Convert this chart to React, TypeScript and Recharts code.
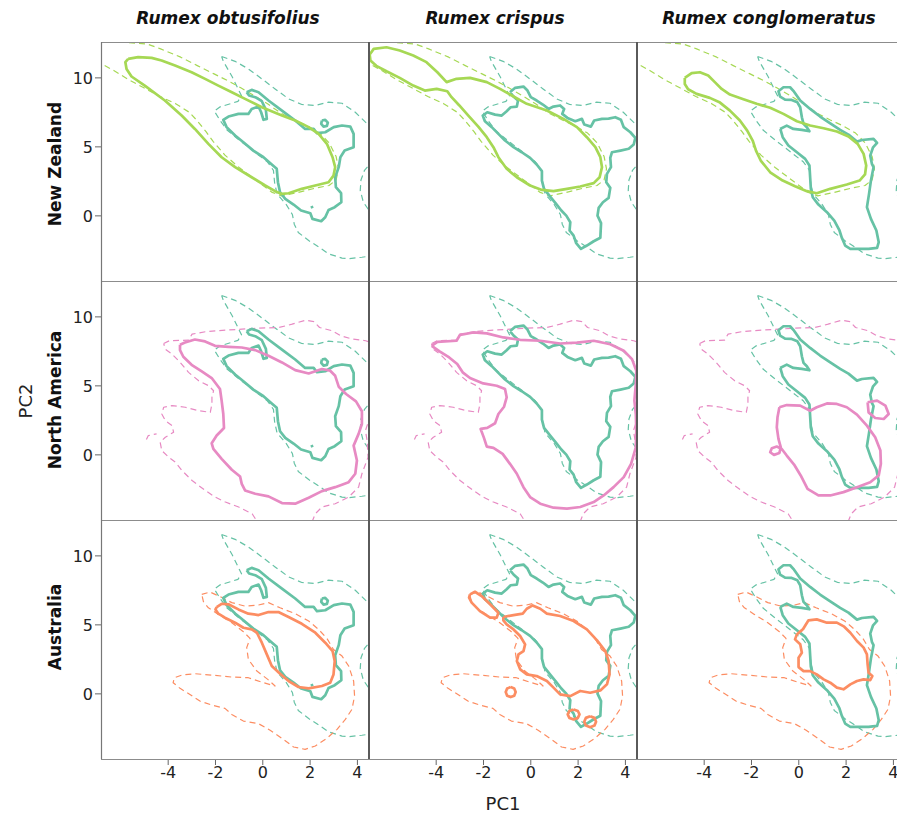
import React from "react";
import { LineChart, Line, XAxis, YAxis } from "recharts";

// ---------- labels ----------
const species = ["Rumex obtusifolius", "Rumex crispus", "Rumex conglomeratus"];
const regions = ["New Zealand", "North America", "Australia"];
const xTicks = [-4, -2, 0, 2, 4];
const yTicks = [0, 5, 10];

// ---------- background (dashed) contours ----------
const nativeBackground = [[-1.74,11.55],[-1.17,11.2],[-0.61,10.65],[-0.04,9.93],[0.52,9.2],[1.09,8.48],[1.65,8.07],[2.22,8.0],[2.78,8.24],[3.35,8.16],[3.91,7.51],[4.34,6.79],[4.8,6.1],[5.0,4.8],[4.6,3.9],[4.3,3.3],[4.15,2.6],[4.12,1.84],[4.25,1.0],[4.45,0.5],[4.7,-0.5],[4.7,-2.6],[4.48,-2.93],[4.19,-3.0],[3.63,-3.1],[3.35,-3.06],[2.78,-2.75],[2.22,-2.09],[1.94,-1.79],[1.5,-1.2],[1.33,-0.6],[1.25,0.1],[1.0,0.8],[0.6,1.6],[0.5,2.4],[0.45,3.3],[0.2,3.9],[-0.4,4.7],[-1.0,5.5],[-1.5,6.2],[-1.8,6.9],[-2.05,7.6],[-1.8,7.9],[-1.05,8.3],[-0.9,8.7],[-1.3,10.1],[-1.67,11.2],[-1.74,11.55]];
const nzBackground = [[-7.3,13.2],[-5.9,12.58],[-4.89,12.46],[-4.32,12.1],[-3.47,11.5],[-2.77,10.89],[-2.06,10.29],[-1.36,9.69],[-0.93,9.28],[-0.37,8.72],[0.2,8.12],[0.76,7.45],[1.33,6.95],[1.9,6.5],[2.4,6.0],[2.8,5.3],[3.1,4.3],[3.2,3.4],[3.1,2.6],[2.8,2.2],[2.2,2.0],[1.5,1.7],[0.8,1.45],[0.4,1.7],[-0.3,2.6],[-1.0,3.5],[-1.6,4.4],[-2.1,5.4],[-2.4,6.1],[-2.75,6.85],[-3.1,7.5],[-3.7,8.15],[-4.35,8.65],[-5.05,9.3],[-5.73,9.93],[-6.3,10.53],[-6.8,11.0],[-7.3,11.4],[-7.3,13.2]];
const naBackground = [[-4.19,8.07],[-3.95,8.27],[-3.14,8.31],[-2.99,8.75],[-2.43,8.92],[-1.58,9.04],[-0.88,9.11],[-0.17,9.18],[0.68,9.23],[1.24,9.47],[1.81,9.76],[2.16,9.66],[2.4,9.23],[2.94,8.99],[3.29,8.63],[3.79,8.39],[4.35,8.27],[4.92,7.9],[5.2,5.0],[4.6,3.0],[4.48,2.48],[4.34,1.76],[4.41,1.04],[4.45,-0.17],[4.19,-1.37],[4.05,-2.34],[3.63,-3.06],[3.06,-3.54],[2.5,-3.78],[2.22,-4.27],[2.0,-5.2],[-0.1,-5.2],[-0.45,-4.27],[-1.02,-3.78],[-1.58,-3.42],[-2.01,-3.06],[-2.43,-2.58],[-2.99,-1.86],[-3.42,-1.13],[-3.7,-0.53],[-3.98,-0.17],[-4.27,0.31],[-4.34,0.92],[-4.12,1.28],[-3.77,1.64],[-3.84,2.12],[-4.12,2.48],[-4.27,2.96],[-4.19,3.45],[-3.84,3.57],[-3.28,3.45],[-2.71,3.2],[-2.22,3.08],[-2.15,3.69],[-2.15,4.17],[-2.08,4.65],[-2.29,5.01],[-2.71,5.37],[-3.14,5.98],[-3.49,6.7],[-3.84,7.3],[-4.12,7.66],[-4.19,8.07]];
const naBackgroundBit = [[-4.92,1.11],[-4.84,1.4],[-4.49,1.52]];
const auBackground = [[-2.58,7.21],[-2.23,7.38],[-1.77,7.02],[-1.31,6.61],[-0.75,6.36],[-0.18,6.44],[0.24,6.61],[0.73,6.24],[1.37,5.81],[1.94,5.28],[2.36,4.67],[2.71,4.02],[2.99,3.22],[3.35,2.74],[3.63,2.02],[3.84,0.93],[3.88,-0.16],[3.77,-1.12],[3.49,-1.85],[3.14,-2.57],[2.71,-3.22],[2.22,-3.78],[1.79,-4.02],[1.3,-3.85],[0.81,-3.22],[0.31,-2.64],[-0.18,-2.16],[-0.82,-1.97],[-1.31,-1.49],[-1.6,-1.05],[-2.16,-0.81],[-2.66,-0.52],[-3.08,-0.04],[-3.5,0.4],[-3.79,0.81],[-3.74,1.17],[-3.43,1.36],[-2.87,1.46],[-2.16,1.36],[-1.31,1.22],[-0.61,1.17],[0.03,0.81],[0.52,0.57],[0.21,1.05],[-0.25,1.65],[-0.61,2.5],[-0.68,3.35],[-0.54,4.02],[-0.82,4.5],[-1.31,5.16],[-1.88,5.76],[-2.3,6.24],[-2.51,6.68],[-2.58,7.21]];

// ---------- native niches (solid teal) ----------
const nativeObtusifolius = [[-0.68,8.96],[-0.47,9.13],[-0.18,8.96],[0.24,8.36],[0.81,7.63],[1.37,6.91],[1.79,6.3],[2.15,6.3],[2.29,5.99],[2.64,6.06],[3.0,6.43],[3.35,6.55],[3.7,6.47],[3.84,5.94],[3.84,4.98],[3.46,4.73],[3.28,4.25],[3.21,3.53],[3.06,2.8],[3.09,2.08],[3.31,1.64],[3.32,0.99],[3.04,0.63],[2.78,0.43],[2.64,-0.1],[2.47,-0.39],[2.1,-0.22],[2.01,0.19],[1.62,0.39],[1.3,0.82],[0.95,1.23],[0.73,1.71],[0.64,2.44],[0.59,3.41],[0.38,3.72],[0.03,4.25],[-0.4,4.73],[-0.82,5.34],[-1.17,5.82],[-1.53,6.43],[-1.67,6.96],[-1.45,7.2],[-1.03,7.39],[-0.61,7.39],[-0.47,7.75],[-0.18,7.92],[-0.07,7.51],[0.03,6.96],[0.17,7.03],[0.13,7.68],[-0.04,8.31],[-0.32,8.6],[-0.58,8.72],[-0.68,8.96]];
const nativeObtusifoliusLoop = [[2.5,6.91],[2.64,6.96],[2.75,6.76],[2.71,6.52],[2.57,6.47],[2.47,6.67],[2.5,6.91]];
const nativeObtusifoliusDot = [[2.06,0.72],[2.1,0.55]];
const nativeCrispus = [[-0.88,8.96],[-0.66,9.28],[-0.31,9.37],[-0.14,9.08],[0.0,8.6],[0.25,8.36],[0.51,8.07],[0.75,7.75],[0.96,7.92],[1.24,8.0],[1.41,7.75],[1.33,7.39],[1.55,7.1],[1.88,6.86],[2.16,7.03],[2.26,6.62],[2.54,6.47],[2.68,6.91],[3.01,7.03],[3.29,7.05],[3.57,7.15],[3.81,6.96],[3.93,6.43],[4.21,6.06],[4.42,5.65],[4.35,5.17],[4.14,4.86],[3.79,4.73],[3.43,4.61],[3.36,4.2],[3.39,3.53],[3.22,3.04],[3.19,2.44],[3.36,2.03],[3.29,1.3],[3.05,0.99],[2.87,0.58],[2.82,0.02],[2.97,-0.53],[2.94,-1.59],[2.66,-1.84],[2.37,-2.15],[2.12,-2.39],[1.92,-1.98],[1.81,-1.43],[1.64,-1.06],[1.67,-0.46],[1.5,0.02],[1.29,0.39],[1.07,0.87],[0.82,1.4],[0.56,1.96],[0.47,2.56],[0.47,3.24],[0.25,3.72],[-0.03,4.2],[-0.38,4.61],[-0.73,4.98],[-1.09,5.46],[-1.37,5.94],[-1.65,6.43],[-1.94,6.86],[-2.03,7.27],[-1.84,7.51],[-1.51,7.34],[-1.23,7.27],[-1.02,7.58],[-0.85,7.87],[-0.59,7.92],[-0.54,8.36],[-0.73,8.65],[-0.88,8.96]];
const nativeConglomeratus = [[-0.79,6.3],[-0.51,6.54],[-0.23,6.3],[0.13,6.23],[0.45,6.13],[0.34,6.42],[0.2,6.67],[0.13,7.15],[0.06,7.87],[-0.06,8.23],[-0.3,8.4],[-0.58,8.43],[-0.79,8.64],[-0.86,9.03],[-0.65,9.32],[-0.37,9.32],[-0.2,9.0],[0.06,8.36],[0.48,7.75],[0.9,7.2],[1.33,6.71],[1.75,6.23],[2.1,5.89],[2.46,5.38],[2.67,5.5],[3.16,5.58],[3.31,5.29],[3.14,4.97],[3.02,4.37],[3.09,3.77],[3.16,3.53],[3.05,2.56],[2.97,1.59],[2.88,0.63],[3.05,-0.22],[3.28,-1.06],[3.38,-1.91],[3.31,-2.32],[2.95,-2.39],[2.6,-2.39],[2.18,-2.39],[1.96,-2.15],[1.82,-1.59],[1.72,-1.06],[1.5,-0.34],[1.19,0.27],[0.83,0.82],[0.59,1.35],[0.51,1.96],[0.48,2.8],[0.45,3.65],[0.27,4.13],[-0.08,4.61],[-0.44,5.1],[-0.68,5.7],[-0.76,6.18],[-0.79,6.3]];

// ---------- New Zealand niches (solid green) ----------
const nzObtusifolius = [[-5.69,11.38],[-5.27,11.5],[-4.7,11.45],[-4.28,11.26],[-3.71,10.89],[-3.01,10.41],[-2.44,9.93],[-1.88,9.44],[-1.31,8.96],[-0.75,8.48],[-0.04,7.87],[0.81,7.27],[1.37,6.91],[1.94,6.43],[2.36,5.94],[2.71,5.22],[2.95,4.25],[3.06,3.53],[2.99,2.92],[2.78,2.44],[2.22,2.2],[1.65,1.96],[1.09,1.64],[0.81,1.59],[0.52,1.79],[0.1,2.2],[-0.47,2.8],[-1.17,3.53],[-1.74,4.25],[-2.3,5.22],[-2.87,6.3],[-3.43,7.27],[-4.14,8.36],[-4.99,9.44],[-5.55,10.1],[-5.76,10.65],[-5.81,11.14],[-5.69,11.38]];
const nzCrispus = [[-6.81,11.69],[-6.64,12.1],[-6.1,12.22],[-5.54,11.98],[-4.97,11.62],[-4.41,11.14],[-3.95,10.41],[-3.56,9.69],[-3.14,9.93],[-2.57,10.0],[-1.86,9.69],[-1.3,9.2],[-0.73,8.65],[-0.17,8.12],[0.68,7.63],[1.38,7.03],[1.95,6.43],[2.37,5.7],[2.73,4.98],[2.94,4.25],[3.01,3.53],[2.91,2.8],[2.66,2.37],[2.09,2.13],[1.53,1.96],[0.96,1.79],[0.47,1.88],[-0.03,2.2],[-0.59,2.8],[-1.02,3.41],[-1.37,4.25],[-1.58,4.98],[-1.86,5.7],[-2.22,6.47],[-2.64,7.27],[-3.02,8.0],[-3.35,8.6],[-3.53,9.03],[-3.98,9.2],[-4.48,9.08],[-4.97,9.44],[-5.54,10.0],[-6.1,10.48],[-6.53,10.87],[-6.78,11.26],[-6.81,11.69]];
const nzConglomeratus = [[-4.82,10.0],[-4.53,10.34],[-4.18,10.41],[-3.83,10.17],[-3.55,9.69],[-3.26,9.2],[-2.91,8.79],[-2.34,8.45],[-1.78,8.12],[-1.21,7.83],[-0.65,7.39],[-0.08,6.86],[0.48,6.55],[1.05,6.35],[1.61,6.11],[2.1,5.75],[2.49,5.22],[2.74,4.49],[2.85,3.65],[2.8,3.0],[2.57,2.56],[2.03,2.27],[1.33,1.96],[0.76,1.64],[0.34,1.79],[-0.16,2.15],[-0.68,2.56],[-1.21,3.16],[-1.61,4.01],[-1.81,4.73],[-1.95,5.46],[-2.18,6.18],[-2.49,6.91],[-2.91,7.63],[-3.33,8.21],[-3.76,8.55],[-4.32,8.84],[-4.68,9.18],[-4.82,9.56],[-4.82,10.0]];

// ---------- North America niches (solid pink) ----------
const naObtusifolius = [[-3.5,7.98],[-3.29,8.14],[-2.87,8.36],[-2.44,8.22],[-2.02,7.9],[-1.45,7.83],[-0.89,7.78],[-0.32,7.59],[0.24,7.18],[0.81,6.7],[1.37,6.14],[1.94,5.9],[2.5,6.22],[2.85,6.1],[3.06,5.73],[3.21,4.94],[3.52,4.41],[3.94,3.88],[4.19,3.16],[4.19,2.24],[4.05,1.52],[3.84,0.67],[3.98,-0.41],[3.91,-1.37],[3.63,-1.98],[3.06,-2.34],[2.5,-2.63],[1.94,-3.11],[1.37,-3.54],[0.81,-3.49],[0.24,-3.01],[-0.32,-2.82],[-0.75,-2.58],[-0.89,-2.1],[-0.96,-1.57],[-1.31,-1.08],[-1.74,-0.29],[-2.09,0.43],[-2.16,0.84],[-1.95,1.4],[-1.64,1.95],[-1.67,2.96],[-1.74,3.93],[-1.81,4.77],[-2.16,5.57],[-2.58,6.05],[-3.01,6.53],[-3.36,7.11],[-3.5,7.59],[-3.5,7.98]];
const naCrispus = [[-4.19,7.9],[-3.95,8.19],[-3.14,8.27],[-2.99,8.7],[-2.43,8.87],[-1.86,8.8],[-1.16,8.51],[-0.45,8.34],[0.4,8.27],[1.24,8.07],[1.95,8.14],[2.66,8.27],[3.36,8.02],[3.93,7.54],[4.28,6.94],[4.46,6.1],[4.44,5.13],[4.38,3.93],[4.44,2.96],[4.46,1.76],[4.44,0.55],[4.24,-0.65],[3.93,-1.61],[3.5,-2.34],[3.08,-2.94],[2.66,-3.42],[2.09,-3.78],[1.53,-3.9],[0.96,-3.83],[0.4,-3.54],[-0.03,-3.06],[-0.31,-2.34],[-0.59,-1.37],[-0.88,-0.65],[-1.19,0.07],[-1.58,0.51],[-1.86,0.6],[-1.98,1.23],[-2.12,1.88],[-1.84,1.95],[-1.51,2.29],[-1.37,2.96],[-1.13,3.49],[-1.02,4.17],[-1.09,4.77],[-1.44,5.01],[-2.01,5.18],[-2.57,5.57],[-2.88,5.98],[-3.11,6.58],[-3.45,7.06],[-3.84,7.49],[-4.19,7.9]];
const naConglomeratus = [[-0.82,3.45],[-0.51,3.61],[0.06,3.57],[0.48,3.2],[0.76,3.45],[1.19,3.73],[1.61,3.69],[2.03,3.45],[2.46,2.92],[2.88,2.12],[3.23,1.28],[3.45,0.31],[3.47,-0.65],[3.38,-1.49],[3.02,-1.98],[2.46,-2.34],[1.89,-2.7],[1.33,-2.94],[0.83,-2.94],[0.37,-2.46],[0.08,-1.49],[-0.2,-0.7],[-0.51,-0.05],[-0.72,0.43],[-0.93,0.6],[-1.14,0.48],[-1.21,0.19],[-1.05,0.0],[-0.82,0.14],[-0.76,0.55],[-0.86,1.16],[-0.93,2.0],[-0.9,2.72],[-0.82,3.45]];
const naConglomeratusLoop = [[2.91,3.81],[3.31,3.93],[3.66,3.57],[3.8,2.96],[3.59,2.6],[3.23,2.67],[2.95,3.08],[2.91,3.81]];

// ---------- Australia niches (solid orange) ----------
const auObtusifolius = [[-1.95,6.29],[-1.74,6.53],[-1.45,6.49],[-1.03,6.12],[-0.61,5.81],[-0.18,5.71],[0.24,5.93],[0.66,5.93],[1.09,5.57],[1.65,5.08],[2.22,4.43],[2.64,3.71],[2.95,3.1],[3.04,2.38],[2.99,1.41],[2.85,0.81],[2.5,0.57],[1.94,0.4],[1.51,0.5],[1.09,0.93],[0.73,1.46],[0.38,2.02],[0.17,2.86],[-0.04,3.71],[-0.25,4.43],[-0.47,4.67],[-0.82,4.79],[-1.17,5.16],[-1.6,5.52],[-1.88,5.81],[-2.0,6.12],[-1.95,6.29]];
const auCrispus = [[-1.16,5.57],[-0.73,5.71],[-0.34,5.81],[-0.17,6.17],[0.08,6.41],[0.4,6.17],[0.68,5.81],[1.24,5.64],[1.81,5.28],[2.37,4.67],[2.8,3.88],[3.15,3.1],[3.29,2.38],[3.33,1.41],[3.22,0.69],[2.94,0.25],[2.51,0.08],[2.09,0.21],[1.67,-0.16],[1.24,-0.04],[0.96,0.45],[0.68,0.93],[0.25,1.29],[-0.17,1.41],[-0.45,1.78],[-0.59,2.38],[-0.52,2.86],[-0.31,3.1],[-0.24,3.59],[-0.45,4.19],[-0.73,4.67],[-1.02,5.04],[-1.16,5.33],[-1.16,5.57]];
const auCrispusTip = [[-2.57,7.21],[-2.36,7.4],[-2.08,7.09],[-1.72,6.49],[-1.37,5.88],[-1.44,5.52],[-1.72,5.52],[-2.15,6.0],[-2.5,6.61],[-2.61,6.97],[-2.57,7.21]];
const auCrispusLoopA = [[-0.85,0.49],[-0.7,0.39],[-0.64,0.13],[-0.7,-0.13],[-0.85,-0.23],[-1.0,-0.13],[-1.06,0.13],[-1.0,0.39],[-0.85,0.49]];
const auCrispusLoopB = [[1.81,-1.13],[1.99,-1.24],[2.06,-1.49],[1.99,-1.74],[1.81,-1.85],[1.63,-1.74],[1.56,-1.49],[1.63,-1.24],[1.81,-1.13]];
const auCrispusLoopC = [[2.51,-1.62],[2.69,-1.74],[2.76,-2.02],[2.69,-2.3],[2.51,-2.42],[2.33,-2.3],[2.26,-2.02],[2.33,-1.74],[2.51,-1.62]];
const auConglomeratus = [[0.17,4.67],[0.41,5.33],[0.76,5.4],[1.19,5.16],[1.61,5.16],[1.92,4.87],[2.18,4.43],[2.46,3.83],[2.74,3.35],[2.88,2.86],[2.91,2.14],[2.95,1.53],[3.11,1.29],[3.02,1.0],[2.74,1.05],[2.46,0.93],[2.18,0.69],[1.89,0.33],[1.61,0.45],[1.33,0.81],[1.05,1.05],[0.76,1.41],[0.48,1.65],[0.2,1.65],[-0.01,1.94],[-0.01,2.62],[0.13,2.98],[0.06,3.59],[-0.16,3.95],[-0.08,4.31],[0.08,4.55],[0.17,4.67]];

// ---------- styling / layout ----------
const TEAL = "#66c2a5";
const rowColors = ["#a6d854", "#e78ac3", "#fc8d62"];
const X_DOMAIN: [number, number] = [-6.84, 4.49];
const Y_DOMAIN: [number, number] = [-4.72, 12.6];
const COL_LEFT = [101, 369, 637];
const ROW_TOP = [42, 281, 520];
const PW = 268;
const PH = 239;
const Y_AXIS_W = 60;
const X_AXIS_H = 30;
const FONT = "'DejaVu Sans', Verdana, sans-serif";

const rowBackgrounds = [[nzBackground], [naBackground, naBackgroundBit], [auBackground]];
const nativeByCol = [
  [nativeObtusifolius, nativeObtusifoliusLoop, nativeObtusifoliusDot],
  [nativeCrispus],
  [nativeConglomeratus],
];
const invadedByCell = [
  [[nzObtusifolius], [nzCrispus], [nzConglomeratus]],
  [[naObtusifolius], [naCrispus], [naConglomeratus, naConglomeratusLoop]],
  [[auObtusifolius], [auCrispus, auCrispusTip, auCrispusLoopA, auCrispusLoopB, auCrispusLoopC], [auConglomeratus]],
];

const toPts = (arr: number[][]) => arr.map(([x, y]) => ({ x, y }));

type Series = { data: number[][]; color: string; dashed: boolean };

function Panel({ r, c }: { r: number; c: number }) {
  const showY = c === 0;
  const showX = r === 2;
  const width = PW + (showY ? Y_AXIS_W : 0);
  const height = PH + (showX ? X_AXIS_H : 0);
  const left = COL_LEFT[c] - (showY ? Y_AXIS_W : 0);
  const top = ROW_TOP[r];
  const series: Series[] = [];
  series.push({ data: nativeBackground, color: TEAL, dashed: true });
  rowBackgrounds[r].forEach((d) => series.push({ data: d, color: rowColors[r], dashed: true }));
  nativeByCol[c].forEach((d) => series.push({ data: d, color: TEAL, dashed: false }));
  invadedByCell[r][c].forEach((d) => series.push({ data: d, color: rowColors[r], dashed: false }));
  const tickStyle = { fontSize: 16, fill: "#222", fontFamily: FONT };
  return (
    <div style={{ position: "absolute", left, top, width, height }}>
      <LineChart width={width} height={height} margin={{ top: 0, right: 0, bottom: 0, left: 0 }}>
        <XAxis
          type="number"
          dataKey="x"
          domain={X_DOMAIN}
          allowDataOverflow
          ticks={xTicks}
          hide={!showX}
          height={X_AXIS_H}
          tick={tickStyle}
          tickSize={6}
          tickLine={{ stroke: "#666" }}
          axisLine={false}
          interval={0}
        />
        <YAxis
          type="number"
          domain={Y_DOMAIN}
          allowDataOverflow
          ticks={yTicks}
          hide={!showY}
          width={Y_AXIS_W}
          tick={tickStyle}
          tickSize={6}
          tickLine={{ stroke: "#666" }}
          axisLine={false}
          interval={0}
        />
        {series.map((s, i) => (
          <Line
            key={i}
            data={toPts(s.data)}
            dataKey="y"
            type="linear"
            stroke={s.color}
            strokeWidth={s.dashed ? 1.2 : 2.7}
            strokeDasharray={s.dashed ? "6 4" : undefined}
            strokeLinejoin="round"
            dot={false}
            activeDot={false}
            isAnimationActive={false}
            legendType="none"
          />
        ))}
      </LineChart>
    </div>
  );
}

export default function App() {
  const cells: React.ReactNode[] = [];
  for (let r = 0; r < 3; r++) for (let c = 0; c < 3; c++) cells.push(<Panel key={`${r}-${c}`} r={r} c={c} />);
  const titleX = [228, 495, 769];
  const rowLabelY = [164, 400, 627];
  return (
    <div style={{ position: "absolute", left: 0, top: 0, width: 897, height: 815, overflow: "hidden", background: "#fff" }}>
      {cells}
      <svg width={897} height={815} style={{ position: "absolute", left: 0, top: 0, pointerEvents: "none" }}>
        {ROW_TOP.concat([ROW_TOP[2] + PH]).map((y, i) => (
          <line key={`h${i}`} x1={101} x2={905} y1={y + 0.5} y2={y + 0.5} stroke="#8c8c8c" strokeWidth={1.2} />
        ))}
        <line x1={101.5} x2={101.5} y1={42} y2={759} stroke="#777" strokeWidth={1.2} />
        <line x1={369} x2={369} y1={42} y2={759} stroke="#5a5a5a" strokeWidth={2} />
        <line x1={637} x2={637} y1={42} y2={759} stroke="#5a5a5a" strokeWidth={2} />
        {species.map((s, i) => (
          <text key={s} x={titleX[i]} y={24} textAnchor="middle" fontFamily={FONT} fontSize={17} fontWeight="bold" fontStyle="italic" fill="#111">
            {s}
          </text>
        ))}
        {regions.map((s, i) => (
          <text key={s} transform={`translate(61, ${rowLabelY[i]}) rotate(-90)`} textAnchor="middle" fontFamily={FONT} fontSize={17} fontWeight="bold" fill="#111">
            {s}
          </text>
        ))}
        <text x={503} y={810} textAnchor="middle" fontFamily={FONT} fontSize={18} fill="#222">PC1</text>
        <text transform="translate(32, 401) rotate(-90)" textAnchor="middle" fontFamily={FONT} fontSize={18} fill="#222">PC2</text>
      </svg>
    </div>
  );
}
